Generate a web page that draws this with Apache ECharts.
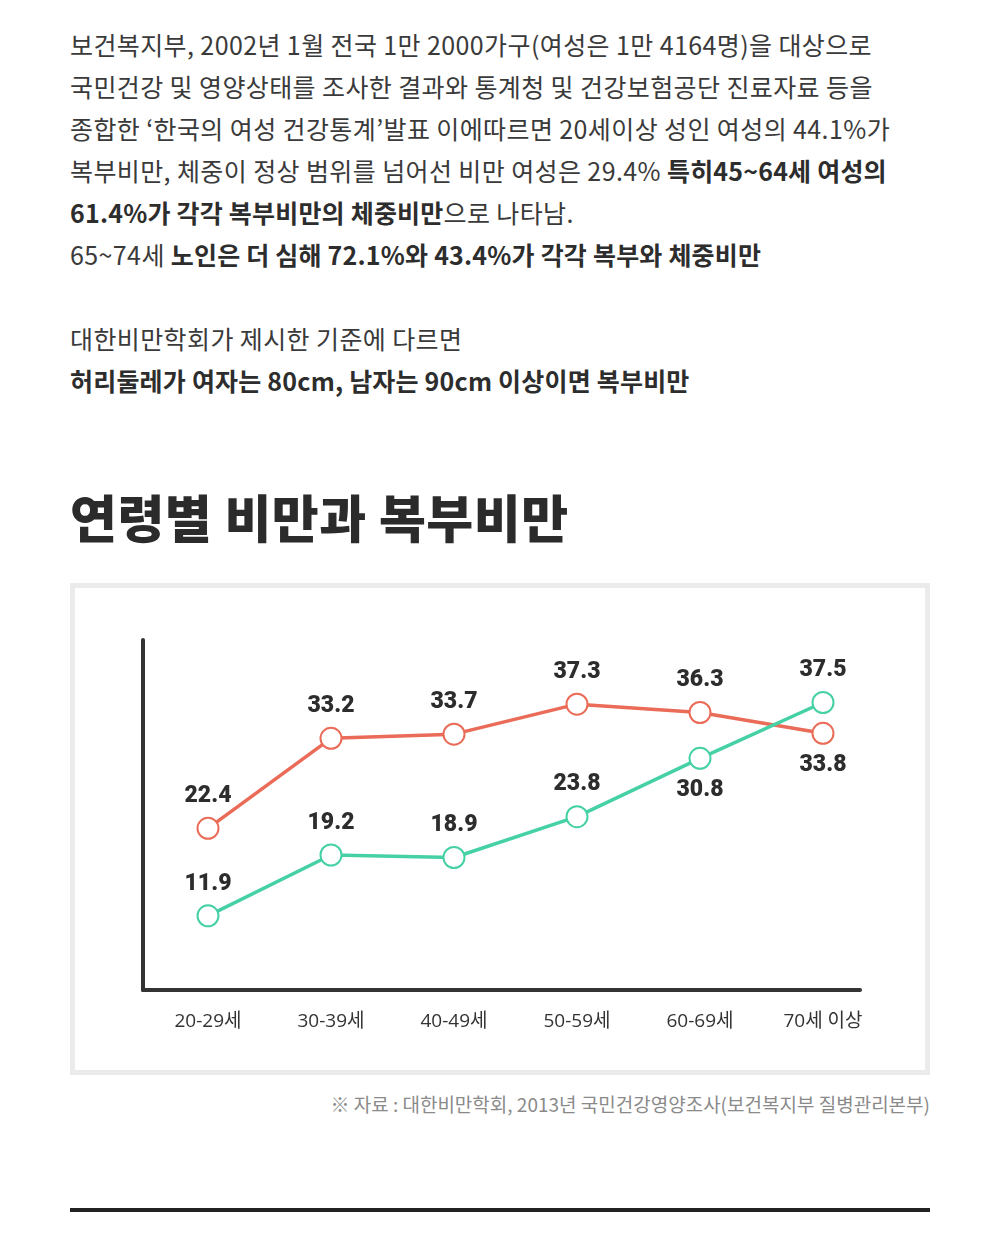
<!DOCTYPE html>
<html>
<head>
<meta charset="utf-8">
<script src="https://cdn.jsdelivr.net/npm/echarts@6/dist/echarts.min.js"></script>
<style>
  body{margin:0;background:#fff;width:1000px;height:1260px;position:relative;
    font-family:"Noto Sans CJK KR","Noto Sans",sans-serif;color:#333;}
  .intro{position:absolute;left:70px;top:23px;font-size:25px;line-height:42px;
    font-weight:400;letter-spacing:0.4px;white-space:nowrap;color:#3a3a3a;}
  .intro b{font-weight:700;color:#2d2d2d;letter-spacing:0.2px;}
  .intro2{top:317px;}
  .title{position:absolute;left:70px;top:483px;font-size:51px;font-weight:900;
    letter-spacing:0.5px;line-height:66px;white-space:nowrap;color:#2b2b2b;}
  .box{position:absolute;left:70px;top:583px;width:860px;height:492px;
    border:5px solid #ebebeb;box-sizing:border-box;}
  #chart{position:absolute;left:75px;top:588px;width:850px;height:482px;}
  .source{position:absolute;right:70px;top:1090px;font-size:19px;font-weight:400;
    color:#8a8a8a;letter-spacing:0;white-space:nowrap;line-height:28px;}
  .rule{position:absolute;left:70px;top:1208px;width:860px;height:4px;background:#222;}
</style>
</head>
<body>
<div class="intro">
보건복지부, 2002년 1월 전국 1만 2000가구(여성은 1만 4164명)을 대상으로<br>
국민건강 및 영양상태를 조사한 결과와 통계청 및 건강보험공단 진료자료 등을<br>
종합한 ‘한국의 여성 건강통계’발표 이에따르면 20세이상 성인 여성의 44.1%가<br>
복부비만, 체중이 정상 범위를 넘어선 비만 여성은 29.4% <b>특히45~64세 여성의</b><br>
<b>61.4%가 각각 복부비만의 체중비만</b>으로 나타남.<br>
65~74세 <b>노인은 더 심해 72.1%와 43.4%가 각각 복부와 체중비만</b>
</div>
<div class="intro intro2">
대한비만학회가 제시한 기준에 다르면<br>
<b>허리둘레가 여자는 80cm, 남자는 90cm 이상이면 복부비만</b>
</div>
<div class="title">연령별 비만과 복부비만</div>
<div class="box"></div>
<div id="chart"></div>
<div class="source">※ 자료 : 대한비만학회, 2013년 국민건강영양조사(보건복지부 질병관리본부)</div>
<div class="rule"></div>

<script>
  // 연령대
  var ageGroups = ['20-29세', '30-39세', '40-49세', '50-59세', '60-69세', '70세 이상'];
  // 복부비만 (주황)
  var abdominal = [22.4, 33.2, 33.7, 37.3, 36.3, 33.8];
  // 비만 (초록)
  var obesity = [11.9, 19.2, 18.9, 23.8, 30.8, 37.5];

  var orange = '#ea6b57';
  var green = '#45d0a5';
  var axisColor = '#333';

  // 라벨이 점 아래에 붙는 위치
  var orangeBelow = [5];
  var greenBelow = [4];

  function withLabels(values, below) {
    return values.map(function (v, i) {
      var pos = below.indexOf(i) >= 0 ? 'bottom' : 'top';
      return { value: v, label: { position: pos } };
    });
  }

  var chart = echarts.init(document.getElementById('chart'));

  var labelStyle = {
    show: true,
    fontSize: 23,
    fontWeight: 900,
    color: '#2d2d2d',
    distance: 9,
    fontFamily: 'Roboto, "Noto Sans", sans-serif'
  };

  var option = {
    animation: false,
    grid: [
      // 축선용
      { left: 68, top: 52, width: 717, height: 350 },
      // 데이터용
      { left: 133, top: 52, width: 615, height: 350 }
    ],
    xAxis: [
      {
        gridIndex: 0, type: 'value', min: 0, max: 1,
        axisLine: { show: true, onZero: false, lineStyle: { color: axisColor, width: 4 } },
        axisTick: { show: false }, axisLabel: { show: false }, splitLine: { show: false }
      },
      {
        gridIndex: 1, type: 'category', data: ageGroups, boundaryGap: false,
        axisLine: { show: false }, axisTick: { show: false },
        axisLabel: { margin: 22, fontSize: 19, color: '#333', fontFamily: '"Open Sans", "Noto Sans CJK KR", sans-serif' }
      }
    ],
    yAxis: [
      {
        gridIndex: 0, type: 'value', min: 0, max: 1,
        axisLine: { show: true, onZero: false, lineStyle: { color: axisColor, width: 4 } },
        axisTick: { show: false }, axisLabel: { show: false }, splitLine: { show: false }
      },
      {
        gridIndex: 1, type: 'value', min: 3, max: 45,
        axisLine: { show: false }, axisTick: { show: false },
        axisLabel: { show: false }, splitLine: { show: false }
      }
    ],
    series: [
      {
        name: '복부비만', type: 'line', xAxisIndex: 1, yAxisIndex: 1,
        data: withLabels(abdominal, orangeBelow),
        symbol: 'emptyCircle', symbolSize: 21,
        lineStyle: { color: orange, width: 3.5 },
        itemStyle: { color: orange, borderColor: orange, borderWidth: 4 },
        label: labelStyle
      },
      {
        name: '비만', type: 'line', xAxisIndex: 1, yAxisIndex: 1,
        data: withLabels(obesity, greenBelow),
        symbol: 'emptyCircle', symbolSize: 21,
        lineStyle: { color: green, width: 3.5 },
        itemStyle: { color: green, borderColor: green, borderWidth: 4 },
        label: labelStyle
      }
    ]
  };

  chart.setOption(option);
</script>
</body>
</html>
